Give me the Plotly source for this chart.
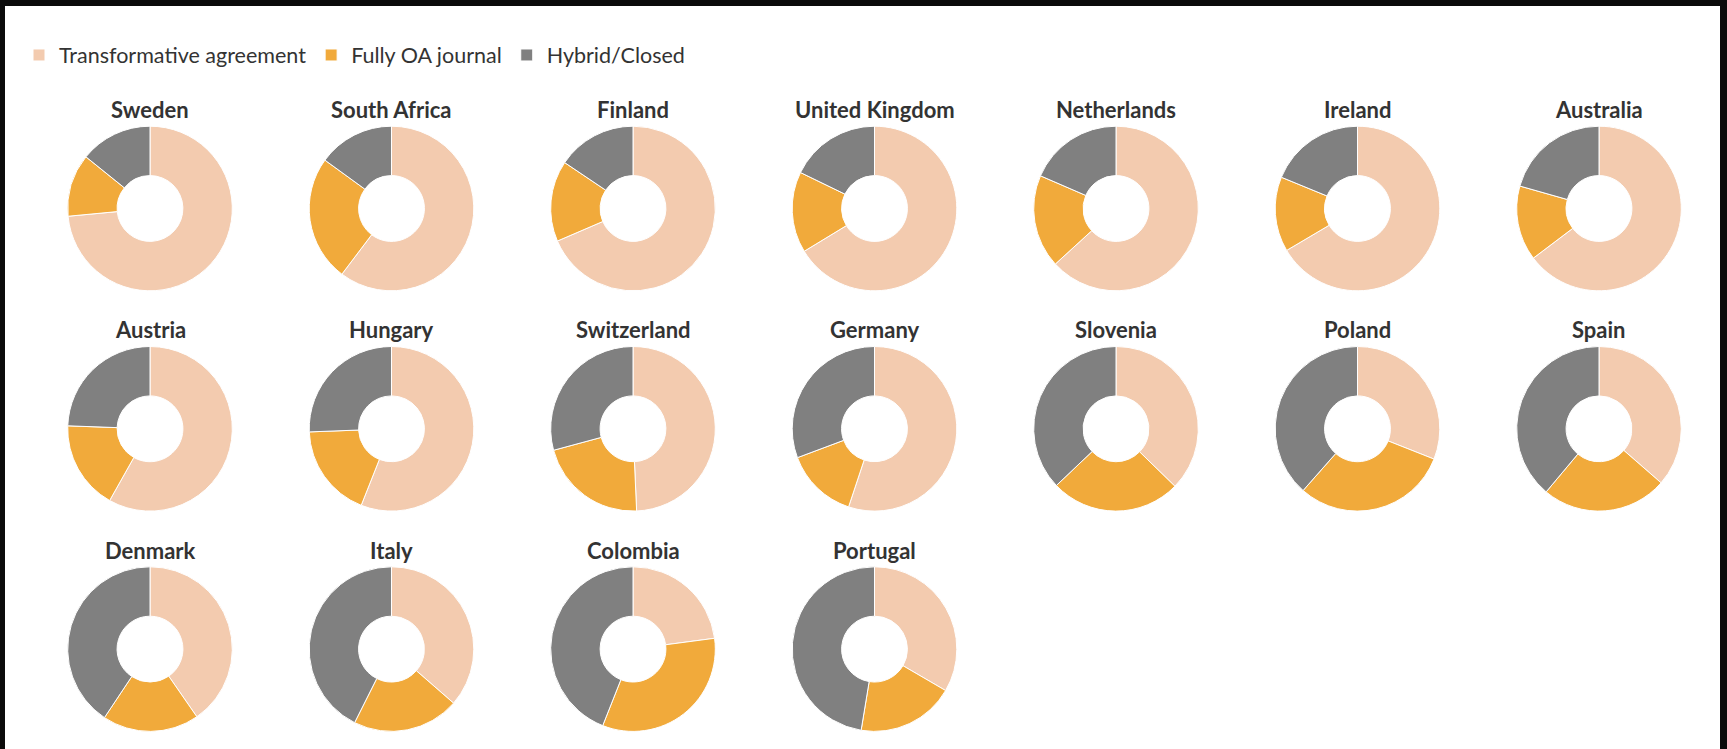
import plotly.graph_objects as go

countries = ["Sweden", "South Africa", "Finland", "United Kingdom", "Netherlands", "Ireland", "Australia",
             "Austria", "Hungary", "Switzerland", "Germany", "Slovenia", "Poland", "Spain",
             "Denmark", "Italy", "Colombia", "Portugal"]
categories = ["Transformative agreement", "Fully OA journal", "Hybrid/Closed"]
transformative = [73.5, 60.3, 68.6, 66.3, 63.2, 66.5, 64.7, 58.1, 56.0, 49.3, 55.1, 37.3, 31.0, 36.4, 40.4, 36.4, 22.9, 33.4]
fully_oa = [12.3, 24.7, 15.9, 15.9, 18.3, 14.7, 14.7, 17.4, 18.4, 21.5, 14.2, 25.6, 30.5, 24.7, 19.0, 21.0, 33.1, 19.2]
hybrid_closed = [14.2, 15.0, 15.6, 17.8, 18.5, 18.8, 20.6, 24.4, 25.6, 29.2, 30.7, 37.1, 38.5, 38.9, 40.7, 42.6, 44.0, 47.4]
colors = ["#F3CBAF", "#F1AA3B", "#808080"]

W, H = 1727, 749
NCOL = 7
X0, DX = 150.0, 241.5
Y0, DY = 208.5, 220.3
R = 82.3
TITLE_OFF = 99.0
FONT = "Lato, 'Source Sans Pro', 'Noto Sans', sans-serif"

fig = go.Figure()
annotations = []
for i, name in enumerate(countries):
    r, c = divmod(i, NCOL)
    cx = X0 + c * DX
    cy = Y0 + r * DY
    fig.add_trace(go.Pie(
        labels=categories,
        values=[transformative[i], fully_oa[i], hybrid_closed[i]],
        name=name,
        hole=0.4,
        sort=False,
        direction="clockwise",
        rotation=0,
        textinfo="none",
        marker=dict(colors=colors, line=dict(color="white", width=1)),
        domain=dict(x=[(cx - R) / W, (cx + R) / W], y=[(H - cy - R) / H, (H - cy + R) / H]),
        hovertemplate=name + "<br>%{label}: %{percent}<extra></extra>",
    ))
    annotations.append(dict(
        x=cx / W, y=(H - (cy - TITLE_OFF)) / H, xref="paper", yref="paper",
        text="<b>" + name + "</b>", showarrow=False, xanchor="center", yanchor="middle",
        font=dict(family=FONT, size=22, color="#333333"),
    ))

fig.update_layout(
    width=W, height=H,
    margin=dict(l=0, r=0, t=0, b=0),
    paper_bgcolor="#0b0b0b",
    plot_bgcolor="white",
    showlegend=True,
    legend=dict(orientation="h", x=19 / W, xanchor="left", y=(H - 55) / H, yanchor="middle",
                font=dict(family=FONT, size=21.5, color="#333333"), bgcolor="rgba(0,0,0,0)",
                traceorder="normal"),
    annotations=annotations,
    shapes=[dict(type="rect", xref="paper", yref="paper", x0=5 / W, x1=1720 / W, y0=0, y1=(H - 6) / H,
                 fillcolor="white", line=dict(width=0), layer="below")],
)

fig.write_html(
    "out.html",
    config={"displayModeBar": False},
    post_script="document.body.style.margin='0';document.body.style.background='#0b0b0b';",
)
